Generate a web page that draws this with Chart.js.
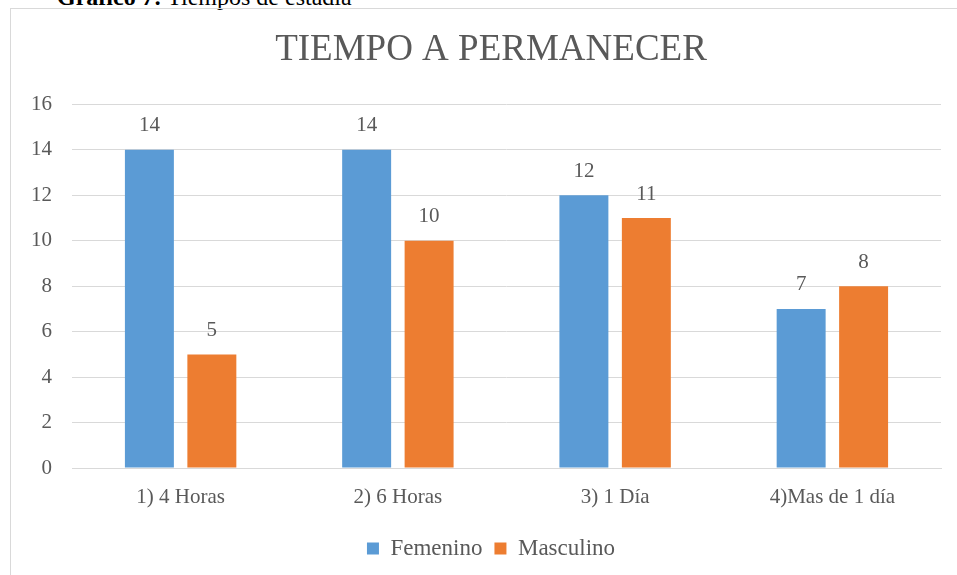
<!DOCTYPE html>
<html>
<head>
<meta charset="utf-8">
<script src="https://cdn.jsdelivr.net/npm/chart.js@4/dist/chart.umd.min.js"></script>
<style>
  html, body { margin: 0; padding: 0; background: #fff; overflow: hidden; width: 957px; height: 575px; }
  #caption { position: absolute; left: 57px; top: -15px; font-family: "Liberation Serif", "Times New Roman", serif; font-size: 24px; line-height: 24px; color: #000; white-space: nowrap; }
  #frame { position: absolute; left: 10px; top: 8px; width: 1000px; height: 600px; border: 1px solid #d9d9d9; box-sizing: border-box; }
  #c { position: absolute; left: 0; top: 0; }
</style>
</head>
<body>
<div id="caption"><b>Gráfico 7:</b> Tiempos de estadía</div>
<div id="frame"></div>
<canvas id="c" width="985" height="575"></canvas>
<script>
const categories = ["1) 4 Horas", "2) 6 Horas", "3) 1 Día", "4)Mas de 1 día"];
const femenino = [14, 14, 12, 7];
const masculino = [5, 10, 11, 8];
const yTicks = [0, 2, 4, 6, 8, 10, 12, 14, 16];
const chartTitle = "TIEMPO A PERMANECER";
const seriesNames = ["Femenino", "Masculino"];

const FONT = "'Liberation Serif', 'Times New Roman', serif";
const TXT = "#595959";

const dataLabels = {
  id: 'dataLabels',
  afterDatasetsDraw(chart) {
    const ctx = chart.ctx;
    ctx.save();
    ctx.font = "21px " + FONT;
    ctx.fillStyle = TXT;
    ctx.textAlign = 'center';
    ctx.textBaseline = 'middle';
    chart.data.datasets.forEach((ds, i) => {
      const meta = chart.getDatasetMeta(i);
      meta.data.forEach((el, j) => {
        ctx.fillText(String(ds.data[j]), el.x, el.y - 24);
      });
    });
    ctx.restore();
  }
};

new Chart(document.getElementById('c'), {
  type: 'bar',
  data: {
    labels: categories,
    datasets: [
      { label: seriesNames[0], data: femenino, backgroundColor: '#5B9BD5', categoryPercentage: 0.575, barPercentage: 0.784 },
      { label: seriesNames[1], data: masculino, backgroundColor: '#ED7D31', categoryPercentage: 0.575, barPercentage: 0.784 }
    ]
  },
  options: {
    responsive: false,
    animation: false,
    devicePixelRatio: 1,
    layout: { padding: { left: 10, right: 13, top: 0, bottom: 5 } },
    plugins: {
      title: {
        display: true,
        text: chartTitle,
        color: TXT,
        font: { family: FONT, size: 37, weight: 'normal' },
        padding: { top: 28, bottom: 32 }
      },
      legend: {
        position: 'bottom',
        labels: {
          color: TXT,
          font: { family: FONT, size: 23 },
          boxWidth: 12,
          boxHeight: 12,
          padding: 12
        }
      },
      tooltip: { enabled: false }
    },
    scales: {
      x: {
        grid: { display: false, drawTicks: false },
        border: { color: '#d9d9d9' },
        ticks: { color: TXT, font: { family: FONT, size: 21 }, padding: 17 },
        afterFit(s) { s.height = 57; }
      },
      y: {
        min: 0, max: 16,
        afterBuildTicks(s) { s.ticks = yTicks.map(v => ({ value: v })); },
        grid: { color: '#d9d9d9', drawTicks: false },
        border: { display: false },
        ticks: { color: TXT, font: { family: FONT, size: 21 }, padding: 20 },
        afterFit(s) { s.width = 62; }
      },
      yr: {
        position: 'right',
        display: true,
        grid: { display: false },
        border: { display: false },
        ticks: { display: false },
        afterFit(s) { s.width = 31; }
      }
    }
  },
  plugins: [dataLabels]
});
</script>
</body>
</html>
